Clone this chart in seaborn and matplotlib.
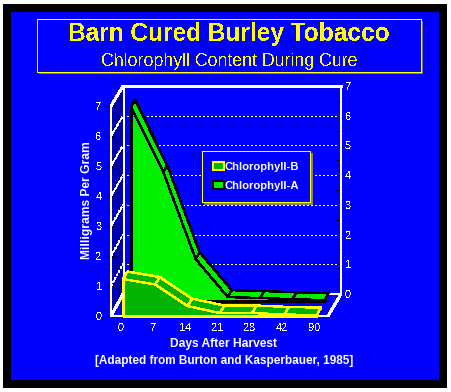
import numpy as np
import matplotlib
matplotlib.use("Agg")
import matplotlib.pyplot as plt
import seaborn as sns
from matplotlib.patches import ConnectionPatch, Patch, Polygon, Rectangle
from matplotlib.transforms import Affine2D

days = ["0", "7", "14", "21", "28", "42", "90"]
chlorophyll_a = [6.47, 4.3, 1.4, 0.13, 0.1, 0.06, 0.03]
chlorophyll_b = [1.23, 1.05, 0.33, 0.1, 0.1, 0.05, 0.03]
y_ticks = [0, 1, 2, 3, 4, 5, 6, 7]

W, H = 451, 392
BLUE = "#0000ff"
NAVY = "#0000aa"
YELLOW = "#ffff00"
GREEN_A = "#00f000"
GREEN_B = "#00b400"

sns.set_theme(style="white")
plt.rcParams["font.family"] = ["Liberation Sans", "DejaVu Sans"]
plt.rcParams["text.antialiased"] = False
plt.rcParams["lines.antialiased"] = False
plt.rcParams["patch.antialiased"] = False

fig = plt.figure(figsize=(W / 72, H / 72), dpi=72, facecolor="white")
px = Affine2D().scale(1, -1).translate(0, H)


def box(left, top, right, bottom, **kw):
    fig.add_artist(Rectangle((left, top), right - left, bottom - top, transform=px, **kw))


def place_axes(left, top, right, bottom, **kw):
    return fig.add_axes([left / W, 1 - bottom / H, (right - left) / W, (bottom - top) / H], **kw)


box(3, 4, 447, 388, fc="black", ec="none", zorder=-3)
box(11, 12, 439, 380, fc=BLUE, ec="none", zorder=-2)
box(39, 21, 423, 74, fc="#808060", ec="none", zorder=-1)
box(37, 19, 421, 72, fc=BLUE, ec=YELLOW, lw=1, zorder=-1)

# back wall carries the right axis, front axes carries the series
back = place_axes(123, 86, 341, 294, zorder=1, facecolor=BLUE)
ax = place_axes(111, 106, 328, 316, zorder=2)
ax.patch.set_visible(False)

x = np.arange(len(days))

for name in ["top", "left"]:
    back.spines[name].set_color("white")
    back.spines[name].set_linewidth(2.5)
back.spines["right"].set_color("white")
back.spines["right"].set_linewidth(2)
back.spines["bottom"].set_color("white")
back.spines["bottom"].set_linewidth(2)
back.set_xticks([])
back.yaxis.tick_right()
back.set_yticks(y_ticks)
back.set_yticks(np.array(y_ticks[:-1]) + 0.5, minor=True)
back.tick_params(axis="y", which="both", direction="in", color="black", width=1, left=False, right=True)
back.tick_params(axis="y", which="major", length=6, labelcolor="white", labelsize=11, pad=4)
back.tick_params(axis="y", which="minor", length=5)
for k in y_ticks[1:-1]:
    sns.lineplot(x=[0, 0.975], y=[k, k], ax=back, color="white", lw=1, ls=(0, (1, 2)), zorder=1)
back.set_xlim(0, 1)
back.set_ylim(0, 7)

for name in ["top", "right"]:
    ax.spines[name].set_visible(False)
ax.spines["left"].set_color("white")
ax.spines["left"].set_linewidth(2)
ax.spines["bottom"].set_color("white")
ax.spines["bottom"].set_linewidth(2)
ax.set_xlim(-0.37, 6.35)
ax.set_ylim(0, 7)
ax.set_yticks(y_ticks)
ax.set_yticks(np.array(y_ticks[:-1]) + 0.5, minor=True)
ax.tick_params(axis="y", which="both", direction="inout", color="black", width=1, left=True)
ax.tick_params(axis="y", which="major", length=6, labelcolor="white", labelsize=11, pad=6)
ax.tick_params(axis="y", which="minor", length=6)
ax.set_xticks(x - 0.07, days)
ax.tick_params(axis="x", length=0, labelcolor="white", labelsize=11, pad=7)
fig.text(224, 344, "Days After Harvest", transform=px, ha="center", va="center",
         color="white", fontweight="bold", fontsize=12, antialiased=True)
ax.set_ylabel("Milligrams Per Gram", color="white", fontweight="bold", fontsize=12,
              labelpad=3, y=0.552, antialiased=True)

# left wall and the floor edges
corner = lambda k: ax.transData.inverted().transform(back.transData.transform((0, k)))
ax.add_patch(Polygon([(-0.37, 0), (-0.37, 7), corner(7), corner(0)], fc=NAVY, ec="none",
                     clip_on=False, zorder=0))
for k in y_ticks:
    solid = k in (0, 7)
    fig.add_artist(ConnectionPatch((-0.37, k), (0, k), ax.transData, back.transData, color="white",
                                   lw=2 if solid else 1, ls="-" if solid else (0, (1, 2)), zorder=3))
fig.add_artist(ConnectionPatch((6.35, 0), (1, 0), ax.transData, back.transData, color="white", lw=2, zorder=3))


def ribbon(values, depth0, depth1, face, edge, z):
    dx0, dy0 = depth0
    dx1, dy1 = depth1
    values = np.asarray(values)
    fx, fy = x + dx0, values + dy0
    bx, by = x + dx1, values + dy1
    for i in range(len(x) - 1):
        ax.fill([fx[i], fx[i + 1], bx[i + 1], bx[i]], [fy[i], fy[i + 1], by[i + 1], by[i]],
                color=face, lw=0, zorder=z, clip_on=False)
    ax.fill_between(fx, dy0, fy, color=face, lw=0, zorder=z, clip_on=False)
    line = dict(ax=ax, color=edge, lw=1.4, sort=False, estimator=None, zorder=z + 0.1, clip_on=False)
    sns.lineplot(x=fx, y=fy, **line)
    sns.lineplot(x=bx, y=by, **line)
    sns.lineplot(x=[fx[0], fx[0], fx[-1], fx[-1]], y=[fy[0], dy0, dy0, fy[-1]], **line)
    for i in range(len(x)):
        sns.lineplot(x=[fx[i], bx[i]], y=[fy[i], by[i]], **line)


ribbon(chlorophyll_a, (0.25, 0.5), (0.37, 0.73), GREEN_A, "black", 4)
ribbon(chlorophyll_b, (0, 0), (0.14, 0.25), GREEN_B, YELLOW, 6)
ax.set_xlim(-0.37, 6.35)
ax.set_ylim(0, 7)

fig.text(229, 34, "Barn Cured Burley Tobacco", transform=px, ha="center", va="center",
         color=YELLOW, fontsize=24.5, fontweight="bold")
fig.text(229, 61, "Chlorophyll Content During Cure", transform=px, ha="center", va="center",
         color=YELLOW, fontsize=17.7)
fig.text(224, 361, "[Adapted from Burton and Kasperbauer, 1985]", transform=px, ha="center", va="center",
         color="white", fontsize=11.8, fontweight="bold", antialiased=True)

handles = [Patch(fc=GREEN_B, ec=YELLOW, lw=2, label="Chlorophyll-B"),
           Patch(fc=GREEN_A, ec="black", lw=2, label="Chlorophyll-A")]
legend = fig.legend(handles=handles, loc="center", bbox_to_anchor=(256, 176.5), bbox_transform=px,
                    facecolor=BLUE, edgecolor=YELLOW, framealpha=1, fancybox=False,
                    shadow={"color": "#808080", "alpha": 1},
                    prop={"weight": "bold", "size": 11.2}, labelcolor="white",
                    handlelength=0.95, handleheight=0.7, handletextpad=0.1, labelspacing=0.85,
                    borderpad=1.0, borderaxespad=0)
legend.set_zorder(5)
frame = legend.get_frame()
frame.set_linewidth(1)
frame.set_edgecolor(YELLOW)
for label in legend.get_texts():
    label.set_antialiased(True)

fig.savefig("out.png", dpi=72)
